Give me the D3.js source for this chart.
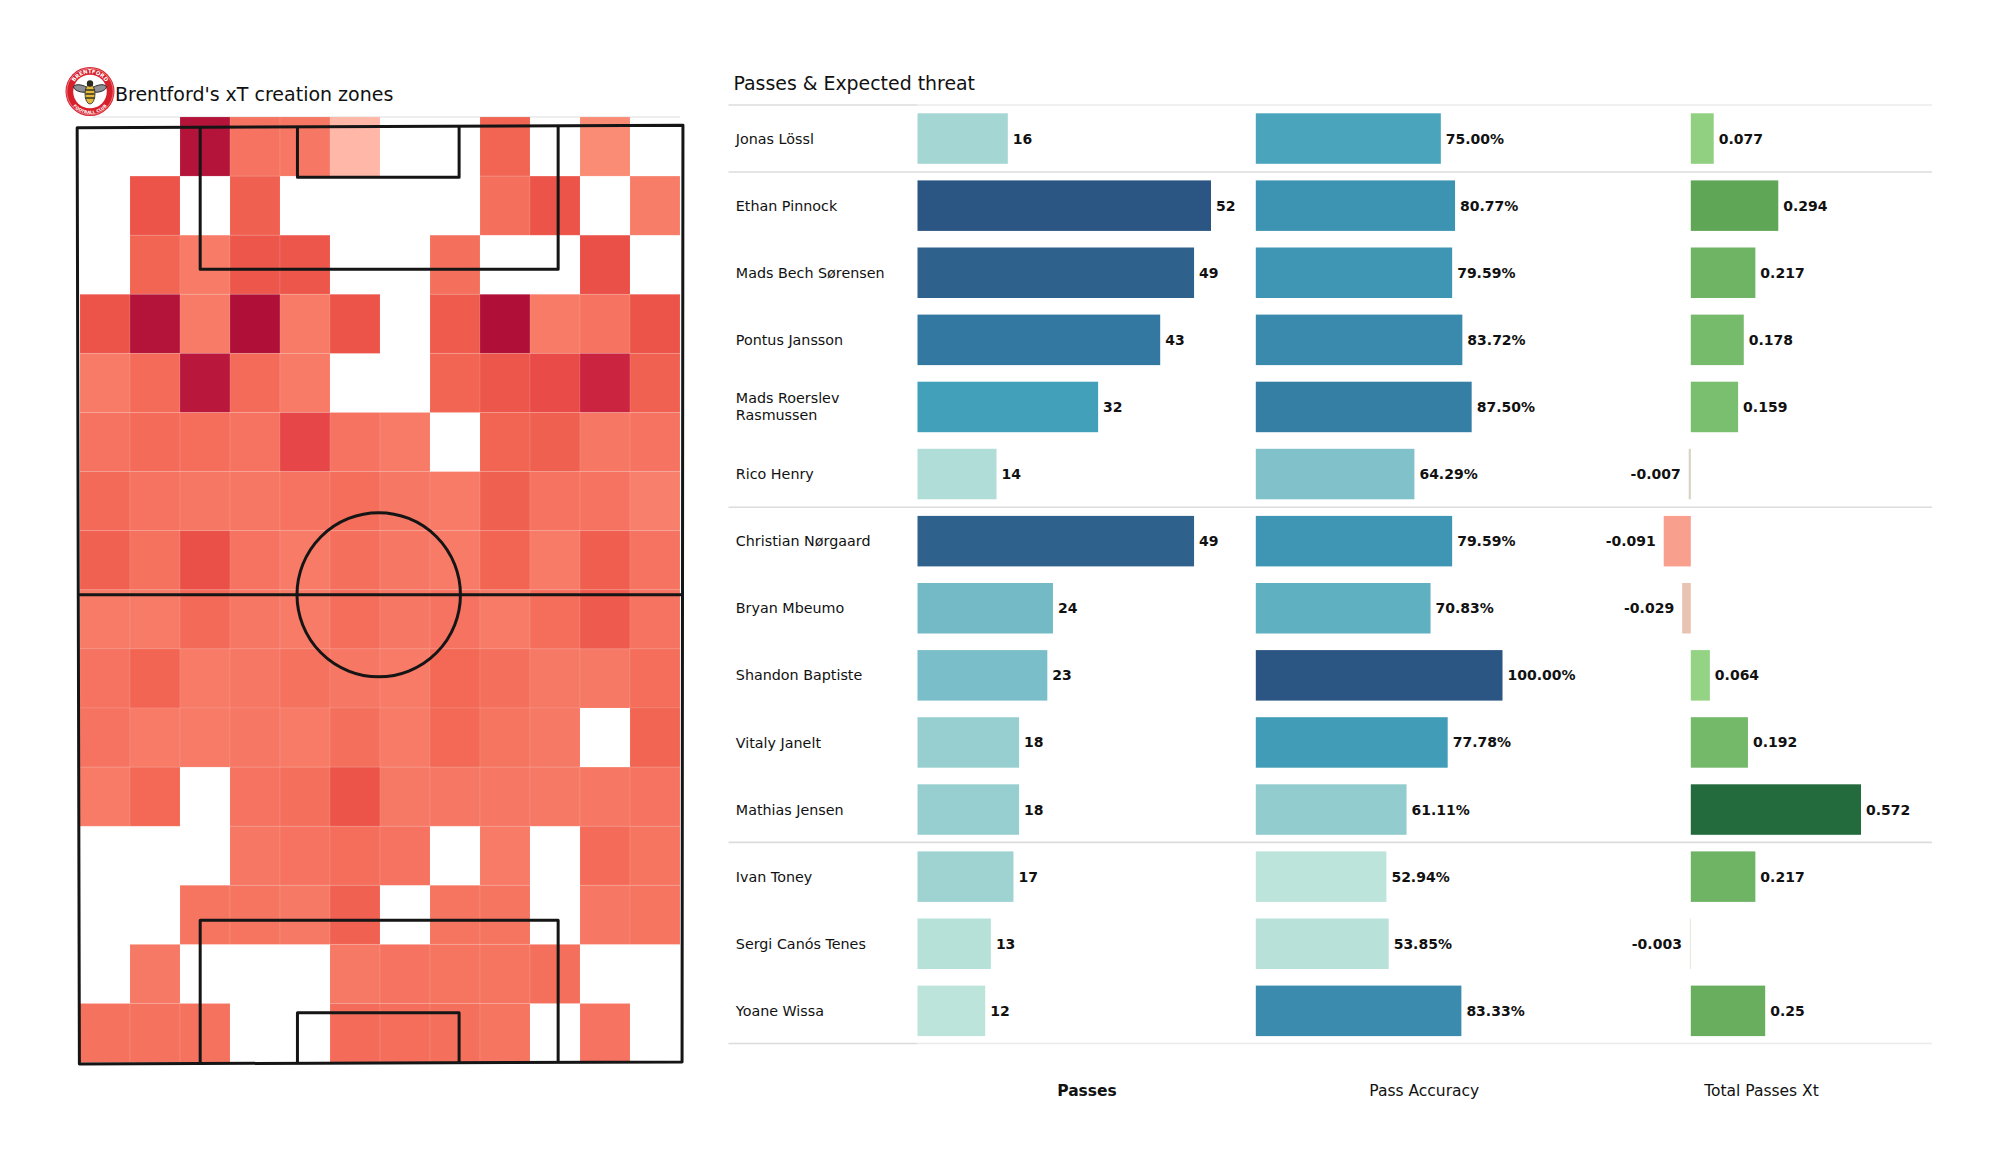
<!DOCTYPE html>
<html><head><meta charset="utf-8">
<script src="https://cdn.jsdelivr.net/npm/d3@7"></script>
<style>html,body{margin:0;padding:0;background:#fff}svg{display:block}text{font-family:"DejaVu Sans",sans-serif;fill:#111}</style>
</head><body><svg id="c" width="2000" height="1175"></svg>
<script>
const players=["Jonas Lössl","Ethan Pinnock","Mads Bech Sørensen","Pontus Jansson","Mads Roerslev Rasmussen","Rico Henry","Christian Nørgaard","Bryan Mbeumo","Shandon Baptiste","Vitaly Janelt","Mathias Jensen","Ivan Toney","Sergi Canós Tenes","Yoane Wissa"];
const passes=[16,52,49,43,32,14,49,24,23,18,18,17,13,12];
const accuracy=[75.00,80.77,79.59,83.72,87.50,64.29,79.59,70.83,100.00,77.78,61.11,52.94,53.85,83.33];
const passXt=[0.077,0.294,0.217,0.178,0.159,-0.007,-0.091,-0.029,0.064,0.192,0.572,0.217,-0.003,0.25];
const xtLabels=["0.077","0.294","0.217","0.178","0.159","-0.007","-0.091","-0.029","0.064","0.192","0.572","0.217","-0.003","0.25"];
const groupBreaks=[0,1,6,11,14];
const headers=["Passes","Pass Accuracy","Total Passes Xt"];
const _=null;
const heat=[
[_,_,.97,.42,.40,.12,_,_,.50,_,.30,_],
[_,.60,_,.53,_,_,_,_,.44,.60,_,.37],
[_,.50,.38,.58,.58,_,_,.44,_,_,.62,_],
[.60,.97,.38,1,.38,.60,_,.55,1,.38,.42,.60],
[.38,.46,.95,.46,.38,_,_,.50,.58,.64,.85,.52],
[.42,.46,.45,.42,.67,.42,.38,_,.50,.53,.40,.42],
[.47,.42,.40,.40,.42,.45,.40,.38,.53,.42,.42,.36],
[.52,.43,.62,.42,.38,.44,.40,.38,.50,.38,.54,.42],
[.38,.38,.47,.40,.38,.45,.40,.42,.38,.45,.56,.42],
[.42,.50,.38,.40,.43,.40,.38,.48,.44,.39,.39,.45],
[.42,.38,.38,.40,.38,.44,.38,.48,.41,.39,_,.50],
[.38,.48,_,.42,.44,.60,.39,.40,.40,.39,.40,.42],
[_,_,_,.40,.42,.45,.42,_,.38,_,.46,.41],
[_,_,.41,.41,.39,.52,_,.41,.41,_,.40,.41],
[_,.39,_,_,_,.39,.42,.41,.41,.44,_,_],
[.43,.43,.43,_,_,.46,.45,.44,.41,_,.42,_]];
const heatDomain=[.10,.30,.40,.50,.60,.70,.85,1];
const heatRange=["#ffbcae","#fa8c76","#f67763","#f26553","#ec5349","#e44146","#cb2440","#b01038"];
const seqDomain=[0,.25,.5,.75,1];
const seqRange=["#bce4da","#7fc1c9","#42a0ba","#347ca3","#2b5582"];
const xtDomain=[-.091,-.029,-.007,-.003,.064,.159,.294,.572];
const xtRange=["#f99f8d","#e9c3b2","#d8d2c2","#e4e4da","#93d383","#7abf6f","#5fa656","#236b3d"];

const svg=d3.select("#c");
/* ---------- heat map ---------- */
const cx=d3.scaleBand().domain(d3.range(12)).range([80,680]);
const cy=d3.scaleBand().domain(d3.range(16)).range([117,1062.6]);
const heatColor=d3.scaleLinear().domain(heatDomain).range(heatRange);
const cells=heat.flatMap((r,j)=>r.map((v,i)=>({i,j,v}))).filter(d=>d.v!==null);
svg.append("line").attr("x1",92).attr("x2",680).attr("y1",117).attr("y2",117).attr("stroke","#e8e8e8").attr("stroke-width",1.5);
svg.append("g").selectAll("rect").data(cells).join("rect")
 .attr("x",d=>cx(d.i)).attr("y",d=>cy(d.j)).attr("width",cx.bandwidth()).attr("height",cy.bandwidth())
 .attr("fill",d=>heatColor(d.v)).attr("stroke","#fff").attr("stroke-opacity",.1).attr("stroke-width",1);
/* pitch, in metres */
const px=d3.scaleLinear().domain([0,68]).range([78.5,682.5]);
const py=d3.scaleLinear().domain([0,105]).range([126.5,1063]);
const pitchOutline=[[-.15,.15],[68.05,-.15],[67.95,104.9],[.1,105.1]];
const boxes=[
 [[13.7,0],[13.7,16],[54,16],[54,0]],
 [[24.65,0],[24.65,5.7],[42.85,5.7],[42.85,0]],
 [[13.7,105],[13.7,89],[54,89],[54,105]],
 [[24.65,105],[24.65,99.36],[42.85,99.36],[42.85,105]]];
const halfway=[[0,52.5],[68,52.5]];
const centre={x:33.8,y:52.5,r:9.2};
const lg=d3.line().x(d=>px(d[0])).y(d=>py(d[1]));
const pitch=svg.append("g").attr("fill","none").attr("stroke","#151515").attr("stroke-width",3).attr("stroke-linejoin","round");
pitch.append("path").attr("d",lg(pitchOutline)+"Z");
boxes.forEach(b=>pitch.append("path").attr("d",lg(b)));
pitch.append("path").attr("d",lg(halfway));
pitch.append("ellipse").attr("cx",px(centre.x)).attr("cy",py(centre.y))
 .attr("rx",px(centre.r)-px(0)).attr("ry",py(centre.r)-py(0));
/* crest */
const crest=svg.append("g").attr("transform","translate(90,91.5)");
crest.append("circle").attr("r",24.5).attr("fill","#d8202c");
crest.append("circle").attr("r",23.2).attr("fill","none").attr("stroke","#f4c9c9").attr("stroke-width",.5);
crest.append("circle").attr("r",16.8).attr("fill","#fff");
const defs=svg.append("defs");
defs.append("path").attr("id","arcT").attr("d","M-18.2,0A18.2,18.2 0 0 1 18.2,0");
defs.append("path").attr("id","arcB").attr("d","M-22.3,0A22.3,22.3 0 0 0 22.3,0");
crest.append("text").append("textPath").attr("href","#arcT").attr("startOffset","50%").attr("text-anchor","middle")
 .text("BRENTFORD").style("font-size","5.4px").style("font-weight","bold").style("fill","#fff");
crest.append("text").append("textPath").attr("href","#arcB").attr("startOffset","50%").attr("text-anchor","middle")
 .text("FOOTBALL CLUB").style("font-size","4.2px").style("font-weight","bold").style("fill","#fff");
crest.append("ellipse").attr("cx",-9).attr("cy",-3).attr("rx",7.6).attr("ry",3.4).attr("fill","#8d9096").attr("stroke","#222").attr("stroke-width",.9).attr("transform","rotate(14 -9 -3)");
crest.append("ellipse").attr("cx",9).attr("cy",-3).attr("rx",7.6).attr("ry",3.4).attr("fill","#8d9096").attr("stroke","#222").attr("stroke-width",.9).attr("transform","rotate(-14 9 -3)");
crest.append("ellipse").attr("cx",0).attr("cy",2.5).attr("rx",5).attr("ry",10).attr("fill","#e2b93d").attr("stroke","#2a2a20").attr("stroke-width",.8);
crest.append("circle").attr("cy",-8).attr("r",3.2).attr("fill","#2a2a20");
[-1.5,2.5,6.5].forEach(o=>crest.append("line").attr("x1",-4.6).attr("x2",4.6).attr("y1",o).attr("y2",o).attr("stroke","#2a2a20").attr("stroke-width",1.4));
svg.append("text").attr("x",115).attr("y",100.5).style("font-size","19px").text("Brentford's xT creation zones");
svg.append("text").attr("x",733.5).attr("y",90).style("font-size","18.9px").text("Passes & Expected threat");

/* ---------- table ---------- */
const rowY=i=>d3.scaleLinear().domain([0,13]).range([113.3,985.6])(i);
const barH=50.5;
const xP=d3.scaleLinear().domain([0,52]).range([917.5,1211]);
const xA=d3.scaleLinear().domain([0,100]).range([1255.8,1502.5]);
const xX=d3.scaleLinear().domain([0,.572]).range([1690.8,1861]);
const seq=d3.scaleLinear().domain(seqDomain).range(seqRange);
const pc=d3.scaleLinear().domain([d3.min(passes),d3.max(passes)]).range([0,1]);
const ac=d3.scaleLinear().domain([d3.min(accuracy),d3.max(accuracy)]).range([0,1]);
const xc=d3.scaleLinear().domain(xtDomain).range(xtRange);
/* rules */
const ruleY=d3.scaleLinear().domain([0,14]).range([105,1043.5]);
const rules=svg.append("g");
groupBreaks.forEach((b,k)=>{
 const y=ruleY(b);
 const edge=(k===0||k===groupBreaks.length-1);
 rules.append("line").attr("x1",728.5).attr("x2",edge?917:1932).attr("y1",y).attr("y2",y).attr("stroke","#dcdcdc").attr("stroke-width",1.6);
 if(edge) rules.append("line").attr("x1",917).attr("x2",1932).attr("y1",y).attr("y2",y).attr("stroke","#ebebeb").attr("stroke-width",1.4);
});
const idx=d3.range(14);
function bars(vals,x,col){
 svg.append("g").selectAll("rect").data(idx).join("rect")
  .attr("x",i=>Math.min(x(0),x(vals[i]))).attr("y",i=>rowY(i))
  .attr("width",i=>Math.abs(x(vals[i])-x(0))).attr("height",barH)
  .attr("fill",i=>col(vals[i]));
}
bars(passes,xP,v=>seq(pc(v)));
bars(accuracy,xA,v=>seq(ac(v)));
bars(passXt,xX,v=>xc(v));
function labels(vals,x,fmt){
 svg.append("g").selectAll("text").data(idx).join("text")
  .attr("x",i=>vals[i]<0?x(vals[i])-8:x(vals[i])+5)
  .attr("y",i=>rowY(i)+barH/2).attr("dy","0.36em")
  .attr("text-anchor",i=>vals[i]<0?"end":"start")
  .style("font-size","14px").style("font-weight","bold").text(fmt);
}
labels(passes,xP,i=>passes[i]);
labels(accuracy,xA,i=>accuracy[i].toFixed(2)+"%");
labels(passXt,xX,i=>xtLabels[i]);
/* names as an axis */
const yAxisScale=d3.scalePoint().domain(players).range([rowY(0)+barH/2,rowY(13)+barH/2]);
const ax=svg.append("g").attr("transform","translate(735.8,0)")
 .call(d3.axisRight(yAxisScale).tickSize(0).tickPadding(0));
ax.select(".domain").remove();
ax.selectAll("text").attr("text-anchor","start").style("font-size","14.3px").style("font-family",'"DejaVu Sans",sans-serif').style("fill","#111")
 .each(function(d){
  if(d==="Mads Roerslev Rasmussen"){
   const t=d3.select(this).text(null);
   t.append("tspan").attr("x",0).attr("dy","-0.3em").text("Mads Roerslev");
   t.append("tspan").attr("x",0).attr("dy","1.2em").text("Rasmussen");
  }
 });
/* column headers */
const headX=d3.scalePoint().domain(headers).range([1087,1761.5]);
svg.append("g").selectAll("text").data(headers).join("text")
 .attr("x",d=>headX(d)).attr("y",1090).attr("dy","0.36em").attr("text-anchor","middle")
 .style("font-size","15.5px").style("font-weight",d=>d==="Passes"?"bold":"normal").text(d=>d);
</script></body></html>
